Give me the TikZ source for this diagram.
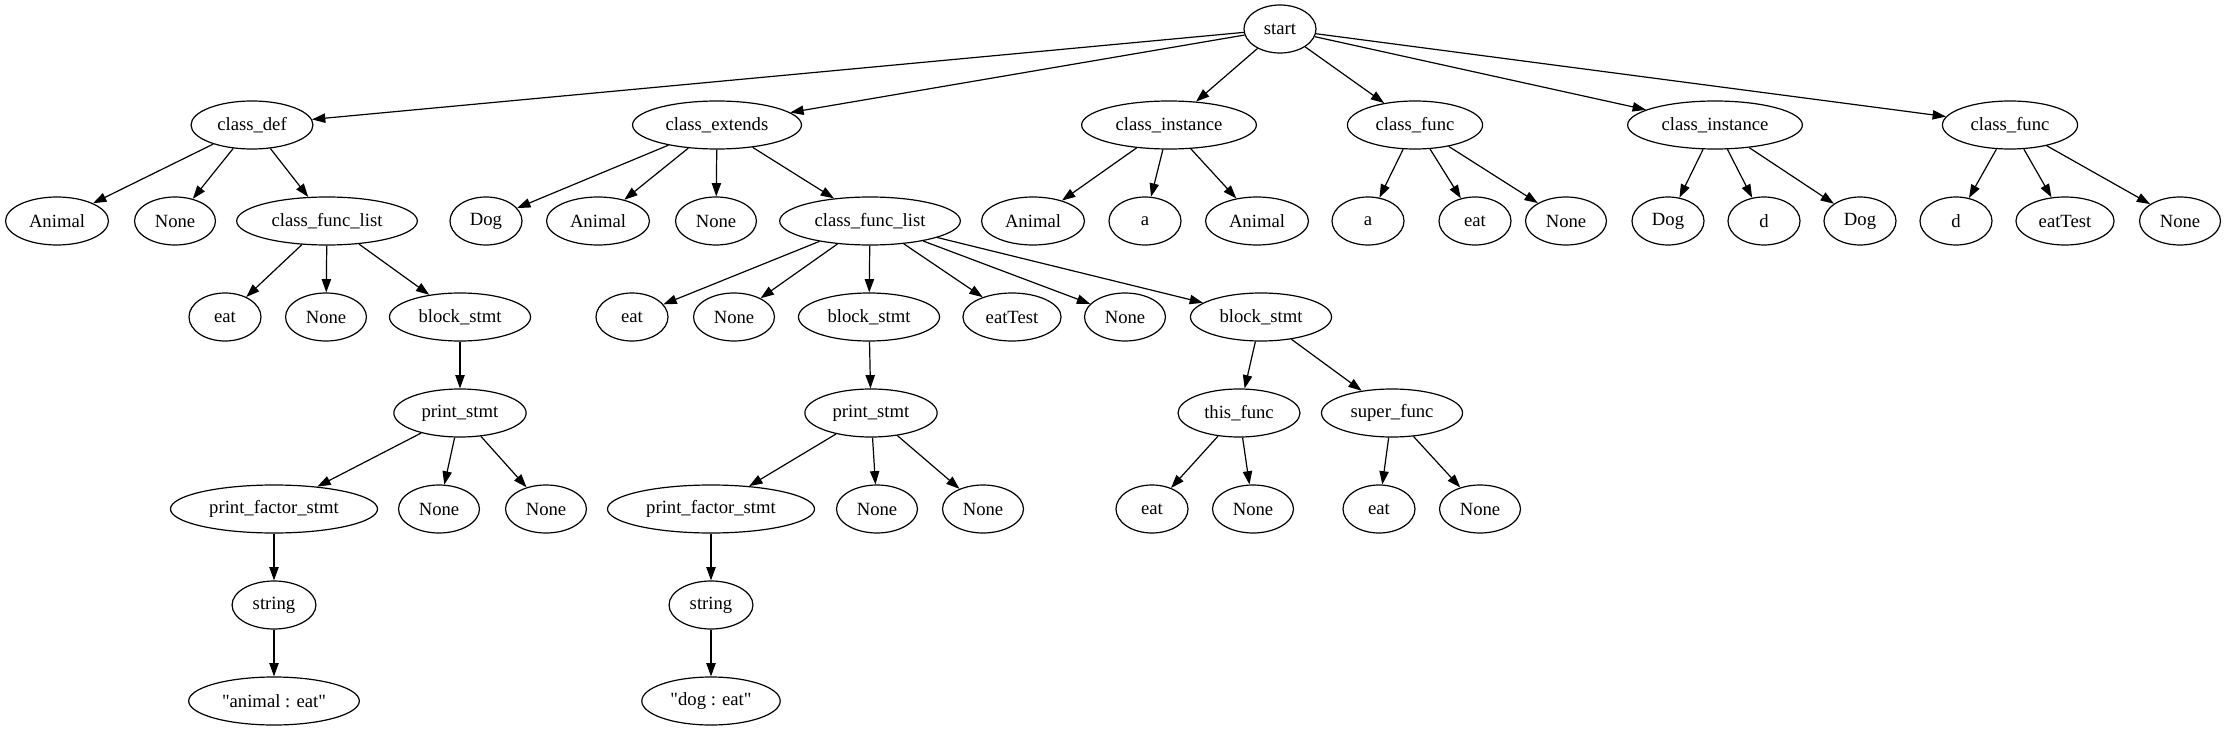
\documentclass[tikz,border=0pt]{standalone}
\usepackage{fontspec}
\setmainfont{Liberation Serif}[Ligatures=TeXOff]
\usepackage{tikz}
\usetikzlibrary{arrows.meta,shapes.geometric}

\begin{document}
\begin{tikzpicture}[
    x=0.75pt, y=-0.75pt,
    tn/.style={draw, ellipse, line width=0.9pt, inner xsep=6.3pt, inner ysep=4pt, minimum width=54pt, minimum height=36pt, font=\fontsize{14}{16}\selectfont},
    wire/.style={line width=0.9pt, -{Triangle[length=10pt,width=7pt]}}
  ]
  \useasboundingbox (0,0) rectangle (2227,731);

  \node[tn] (S) at (1280,29) {start};

  \node[tn] (CD) at (252,125) {class\_def};
  \node[tn] (CE) at (717,125) {class\_extends};
  \node[tn] (CI1) at (1169,125) {class\_instance};
  \node[tn] (CF1) at (1415,125) {class\_func};
  \node[tn] (CI2) at (1715,125) {class\_instance};
  \node[tn] (CF2) at (2010,125) {class\_func};

  \node[tn] (A1) at (57,221) {Animal};
  \node[tn] (N1) at (175,221) {None};
  \node[tn] (L1) at (327,221) {class\_func\_list};
  \node[tn] (D1) at (486,221) {Dog};
  \node[tn] (A2) at (598,221) {Animal};
  \node[tn] (N2) at (716,221) {None};
  \node[tn] (L2) at (870,221) {class\_func\_list};
  \node[tn] (A3) at (1033,221) {Animal};
  \node[tn] (I1) at (1145,221) {a};
  \node[tn] (A4) at (1257,221) {Animal};
  \node[tn] (I2) at (1368,221) {a};
  \node[tn] (E1) at (1475,221) {eat};
  \node[tn] (N3) at (1566,221) {None};
  \node[tn] (D2) at (1668,221) {Dog};
  \node[tn] (I3) at (1764,221) {d};
  \node[tn] (D3) at (1860,221) {Dog};
  \node[tn] (I4) at (1956,221) {d};
  \node[tn] (T1) at (2065,221) {eatTest};
  \node[tn] (N4) at (2180,221) {None};

  \node[tn] (E2) at (225,317) {eat};
  \node[tn] (N5) at (326,317) {None};
  \node[tn] (B1) at (460,317) {block\_stmt};
  \node[tn] (E3) at (632,317) {eat};
  \node[tn] (N6) at (734,317) {None};
  \node[tn] (B2) at (869,317) {block\_stmt};
  \node[tn] (T2) at (1012,317) {eatTest};
  \node[tn] (N7) at (1125,317) {None};
  \node[tn] (B3) at (1261,317) {block\_stmt};

  \node[tn] (P1) at (460,413) {print\_stmt};
  \node[tn] (P2) at (871,413) {print\_stmt};
  \node[tn] (TF) at (1239,413) {this\_func};
  \node[tn] (SF) at (1392,413) {super\_func};

  \node[tn] (F1) at (274,509) {print\_factor\_stmt};
  \node[tn] (N8) at (439,509) {None};
  \node[tn] (N9) at (546,509) {None};
  \node[tn] (F2) at (711,509) {print\_factor\_stmt};
  \node[tn] (N10) at (877,509) {None};
  \node[tn] (N11) at (983,509) {None};
  \node[tn] (E4) at (1152,509) {eat};
  \node[tn] (N12) at (1253,509) {None};
  \node[tn] (E5) at (1379,509) {eat};
  \node[tn] (N13) at (1480,509) {None};

  \node[tn] (G1) at (274,605) {string};
  \node[tn] (G2) at (711,605) {string};

  \node[tn] (Q1) at (274,701) {"animal : eat"};
  \node[tn] (Q2) at (711,701) {"dog : eat"};

  \draw[wire] (S) -- (CD);
  \draw[wire] (S) -- (CE);
  \draw[wire] (S) -- (CI1);
  \draw[wire] (S) -- (CF1);
  \draw[wire] (S) -- (CI2);
  \draw[wire] (S) -- (CF2);

  \draw[wire] (CD) -- (A1);
  \draw[wire] (CD) -- (N1);
  \draw[wire] (CD) -- (L1);
  \draw[wire] (CE) -- (D1);
  \draw[wire] (CE) -- (A2);
  \draw[wire] (CE) -- (N2);
  \draw[wire] (CE) -- (L2);
  \draw[wire] (CI1) -- (A3);
  \draw[wire] (CI1) -- (I1);
  \draw[wire] (CI1) -- (A4);
  \draw[wire] (CF1) -- (I2);
  \draw[wire] (CF1) -- (E1);
  \draw[wire] (CF1) -- (N3);
  \draw[wire] (CI2) -- (D2);
  \draw[wire] (CI2) -- (I3);
  \draw[wire] (CI2) -- (D3);
  \draw[wire] (CF2) -- (I4);
  \draw[wire] (CF2) -- (T1);
  \draw[wire] (CF2) -- (N4);

  \draw[wire] (L1) -- (E2);
  \draw[wire] (L1) -- (N5);
  \draw[wire] (L1) -- (B1);
  \draw[wire] (L2) -- (E3);
  \draw[wire] (L2) -- (N6);
  \draw[wire] (L2) -- (B2);
  \draw[wire] (L2) -- (T2);
  \draw[wire] (L2) -- (N7);
  \draw[wire] (L2) -- (B3);

  \draw[wire] (B1) -- (P1);
  \draw[wire] (B2) -- (P2);
  \draw[wire] (B3) -- (TF);
  \draw[wire] (B3) -- (SF);

  \draw[wire] (P1) -- (F1);
  \draw[wire] (P1) -- (N8);
  \draw[wire] (P1) -- (N9);
  \draw[wire] (P2) -- (F2);
  \draw[wire] (P2) -- (N10);
  \draw[wire] (P2) -- (N11);
  \draw[wire] (TF) -- (E4);
  \draw[wire] (TF) -- (N12);
  \draw[wire] (SF) -- (E5);
  \draw[wire] (SF) -- (N13);

  \draw[wire] (F1) -- (G1);
  \draw[wire] (F2) -- (G2);
  \draw[wire] (G1) -- (Q1);
  \draw[wire] (G2) -- (Q2);
\end{tikzpicture}
\end{document}
